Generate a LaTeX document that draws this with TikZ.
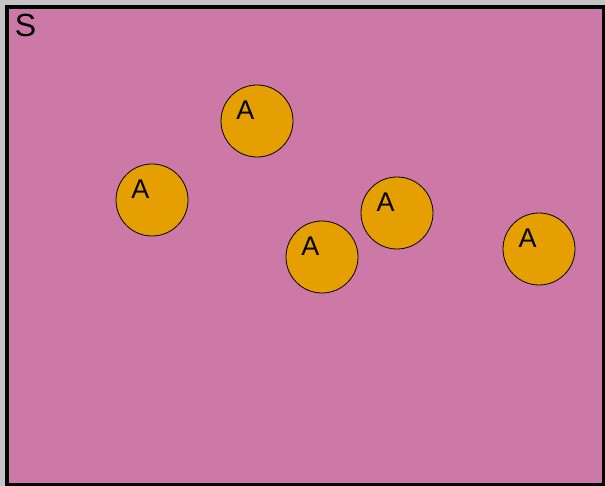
\documentclass[tikz,border=0pt]{standalone}
\usepackage{fontspec}
\setmainfont{Liberation Sans}
\usetikzlibrary{positioning}

\definecolor{setpink}{HTML}{CC79A7}
\definecolor{elemorange}{HTML}{E69F00}
\definecolor{outergray}{HTML}{C4C4C4}

\tikzset{
    setbox/.style={draw=black,line width=4pt,fill=setpink},
    element/.style={circle,draw=black,line width=0.8pt,fill=elemorange,
        minimum size=72pt,inner sep=0pt},
    elemlabel/.style={font=\fontsize{27}{27}\selectfont,inner sep=0pt}
}

\begin{document}
\begin{tikzpicture}[x=1pt,y=-1pt]
    \fill[outergray] (0,0) rectangle (605,486);
    \useasboundingbox (0,0) rectangle (605,486);
    \draw[setbox] (7,7) rectangle (604,485);
    \node[font=\fontsize{32}{32}\selectfont,inner sep=0pt] (setname) at (25.5,25) {S};

    % elements of the set
    \node[element] (e1) at (257,121) {};
    \node[element] (e2) at (152,200) {};
    \node[element] (e3) at (397,213) {};
    \node[element] (e4) at (322,257) {};
    \node[element] (e5) at (539,249) {};

    \node[elemlabel] at ([shift={(-11.5,-11)}]e1.center) {A};
    \node[elemlabel] at ([shift={(-11.5,-11)}]e2.center) {A};
    \node[elemlabel] at ([shift={(-11.5,-11)}]e3.center) {A};
    \node[elemlabel] at ([shift={(-11.5,-11)}]e4.center) {A};
    \node[elemlabel] at ([shift={(-11.5,-11)}]e5.center) {A};
\end{tikzpicture}
\end{document}
